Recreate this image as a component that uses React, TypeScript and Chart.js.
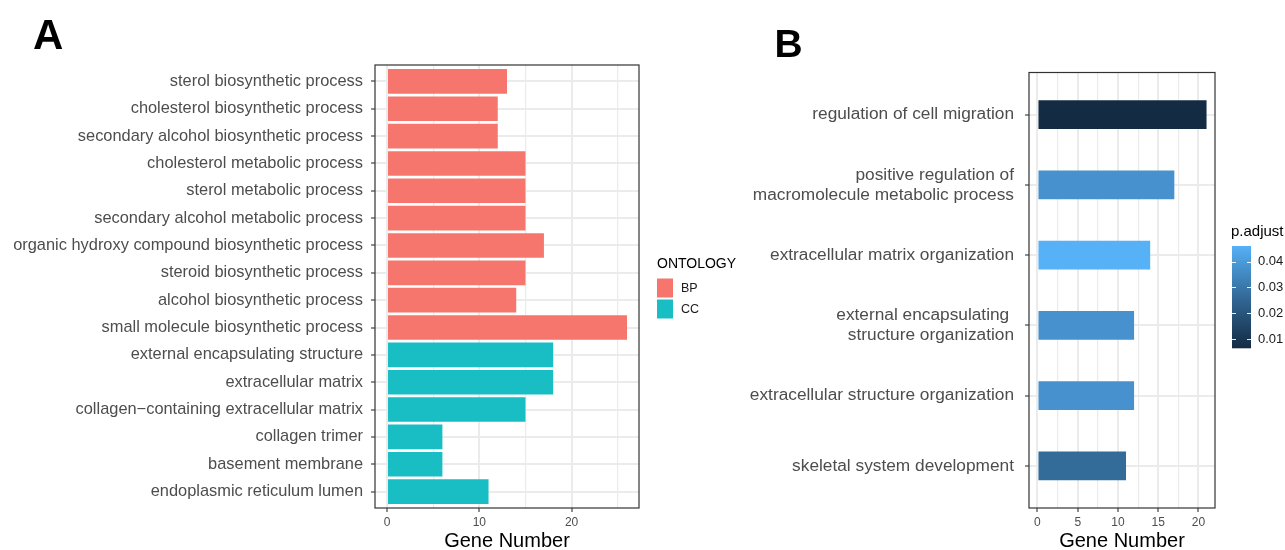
import React, { useEffect, useRef } from "react";
import { Chart, registerables } from "chart.js";

Chart.register(...registerables);

// ---------- Data: panel A ----------
const termsA = [
  "sterol biosynthetic process",
  "cholesterol biosynthetic process",
  "secondary alcohol biosynthetic process",
  "cholesterol metabolic process",
  "sterol metabolic process",
  "secondary alcohol metabolic process",
  "organic hydroxy compound biosynthetic process",
  "steroid biosynthetic process",
  "alcohol biosynthetic process",
  "small molecule biosynthetic process",
  "external encapsulating structure",
  "extracellular matrix",
  "collagen\u2212containing extracellular matrix",
  "collagen trimer",
  "basement membrane",
  "endoplasmic reticulum lumen",
];
const countsA = [13, 12, 12, 15, 15, 15, 17, 15, 14, 26, 18, 18, 15, 6, 6, 11];
const ontologyA = ["BP", "BP", "BP", "BP", "BP", "BP", "BP", "BP", "BP", "BP", "CC", "CC", "CC", "CC", "CC", "CC"];
const ontologyLevels = ["BP", "CC"];
const ontologyColors = ["#F6766E", "#19BEC4"];
const xTicksA = [0, 5, 10, 15, 20, 25];

// ---------- Data: panel B ----------
const termsB: (string | string[])[] = [
  "regulation of cell migration",
  ["positive regulation of", "macromolecule metabolic process"],
  "extracellular matrix organization",
  ["external encapsulating ", "structure organization"],
  "extracellular structure organization",
  "skeletal system development",
];
const countsB = [21, 17, 14, 12, 12, 11];
const padjB = [0.0064, 0.0376, 0.046, 0.0376, 0.0376, 0.0265];
const xTicksB = [0, 2.5, 5, 7.5, 10, 12.5, 15, 17.5, 20];
const padjTicks = [0.01, 0.02, 0.03, 0.04];

const FONT = "'Liberation Sans', Arial, Helvetica, sans-serif";
const GRID = "#EBEBEB";
const AXIS_TEXT = "#4D4D4D";
const TICK = "#333333";

// ---------- colour ramp (CIELAB, like ggplot's continuous fill) ----------
const WHITE = [0.95047, 1, 1.08883];
function hexToRgb(h: string) {
  const n = parseInt(h.slice(1), 16);
  return [(n >> 16) & 255, (n >> 8) & 255, n & 255];
}
function toLin(c: number) {
  c /= 255;
  return c <= 0.04045 ? c / 12.92 : Math.pow((c + 0.055) / 1.055, 2.4);
}
function fromLin(c: number) {
  const v = c <= 0.0031308 ? 12.92 * c : 1.055 * Math.pow(c, 1 / 2.4) - 0.055;
  return Math.round(Math.min(1, Math.max(0, v)) * 255);
}
function rgbToLab(rgb: number[]) {
  const R = toLin(rgb[0]), G = toLin(rgb[1]), B = toLin(rgb[2]);
  const X = (0.4124564 * R + 0.3575761 * G + 0.1804375 * B) / WHITE[0];
  const Y = (0.2126729 * R + 0.7151522 * G + 0.072175 * B) / WHITE[1];
  const Z = (0.0193339 * R + 0.119192 * G + 0.9503041 * B) / WHITE[2];
  const f = (t: number) => (t > 216 / 24389 ? Math.cbrt(t) : ((24389 / 27) * t + 16) / 116);
  const fx = f(X), fy = f(Y), fz = f(Z);
  return [116 * fy - 16, 500 * (fx - fy), 200 * (fy - fz)];
}
function labToRgb(lab: number[]) {
  const fy = (lab[0] + 16) / 116, fx = fy + lab[1] / 500, fz = fy - lab[2] / 200;
  const finv = (t: number) => {
    const t3 = t * t * t;
    return t3 > 216 / 24389 ? t3 : (116 * t - 16) / (24389 / 27);
  };
  const X = finv(fx) * WHITE[0], Y = finv(fy) * WHITE[1], Z = finv(fz) * WHITE[2];
  const R = 3.2404542 * X - 1.5371385 * Y - 0.4985314 * Z;
  const G = -0.969266 * X + 1.8760108 * Y + 0.041556 * Z;
  const B = 0.0556434 * X - 0.2040259 * Y + 1.0572252 * Z;
  return [fromLin(R), fromLin(G), fromLin(B)];
}
const LOW = rgbToLab(hexToRgb("#132B43"));
const HIGH = rgbToLab(hexToRgb("#56B1F7"));
const pMin = Math.min(...padjB);
const pMax = Math.max(...padjB);
function padjColor(p: number) {
  const t = Math.min(1, Math.max(0, (p - pMin) / (pMax - pMin)));
  const lab = [0, 1, 2].map((k) => LOW[k] + (HIGH[k] - LOW[k]) * t);
  const c = labToRgb(lab);
  return `rgb(${c[0]},${c[1]},${c[2]})`;
}

// ---------- plugins ----------
const framePlugin = {
  id: "frame",
  afterDatasetsDraw(chart: any) {
    const { ctx, chartArea: a } = chart;
    ctx.save();
    ctx.strokeStyle = "#333333";
    ctx.lineWidth = 1.2;
    ctx.strokeRect(a.left, a.top, a.right - a.left, a.bottom - a.top);
    ctx.restore();
  },
};

const legendAPlugin = {
  id: "legendA",
  afterDraw(chart: any) {
    const ctx = chart.ctx;
    ctx.save();
    ctx.fillStyle = "#000";
    ctx.font = `bold 42px ${FONT}`;
    ctx.textBaseline = "alphabetic";
    ctx.textAlign = "left";
    ctx.fillText("A", 33, 49);
    ctx.font = `14px ${FONT}`;
    ctx.fillText("ONTOLOGY", 657, 268);
    ontologyLevels.forEach((lv, i) => {
      ctx.fillStyle = ontologyColors[i];
      ctx.fillRect(657, 278.5 + i * 21, 16, 19);
      ctx.fillStyle = "#1A1A1A";
      ctx.font = `12.5px ${FONT}`;
      ctx.textBaseline = "middle";
      ctx.fillText(lv, 681, 288.5 + i * 21);
    });
    ctx.restore();
  },
};

const legendBPlugin = {
  id: "legendB",
  afterDraw(chart: any) {
    const ctx = chart.ctx;
    ctx.save();
    ctx.fillStyle = "#000";
    ctx.font = `bold 39px ${FONT}`;
    ctx.textBaseline = "alphabetic";
    ctx.textAlign = "left";
    ctx.fillText("B", 774.5, 57);

    ctx.font = `15px ${FONT}`;
    ctx.fillText("p.adjust", 1231, 236);

    const x0 = 1232, w = 19, yTop = 246, yBot = 348.3;
    const yOf = (p: number) => yBot - ((p - pMin) / (pMax - pMin)) * (yBot - yTop);
    const grad = ctx.createLinearGradient(0, yBot, 0, yTop);
    for (let i = 0; i <= 20; i++) {
      const p = pMin + ((pMax - pMin) * i) / 20;
      grad.addColorStop(i / 20, padjColor(p));
    }
    ctx.fillStyle = grad;
    ctx.fillRect(x0, yTop, w, yBot - yTop);

    ctx.strokeStyle = "rgba(255,255,255,0.9)";
    ctx.lineWidth = 1;
    ctx.font = `13px ${FONT}`;
    ctx.textBaseline = "middle";
    padjTicks.forEach((p) => {
      const y = Math.round(yOf(p)) + 0.5;
      ctx.beginPath();
      ctx.moveTo(x0, y);
      ctx.lineTo(x0 + 4, y);
      ctx.moveTo(x0 + w - 4, y);
      ctx.lineTo(x0 + w, y);
      ctx.stroke();
      ctx.fillStyle = "#1A1A1A";
      ctx.fillText(p.toFixed(2), 1258, yOf(p));
    });
    ctx.restore();
  },
};

function App() {
  const refA = useRef<HTMLCanvasElement>(null);
  const refB = useRef<HTMLCanvasElement>(null);

  useEffect(() => {
    Chart.defaults.font.family = FONT;

    const chartA = new Chart(refA.current as HTMLCanvasElement, {
      type: "bar",
      data: {
        datasets: [
          {
            data: countsA.map((v, i) => ({ x: v, y: i })),
            backgroundColor: ontologyA.map((o) => ontologyColors[ontologyLevels.indexOf(o)]),
            borderWidth: 0,
            barPercentage: 0.9,
            categoryPercentage: 1,
          } as any,
        ],
      },
      options: {
        indexAxis: "y",
        animation: false,
        responsive: false,
        devicePixelRatio: 1,
        layout: { padding: { left: 0, top: 65, right: 1285 - 639, bottom: 0 } },
        plugins: { legend: { display: false }, tooltip: { enabled: false } },
        scales: {
          x: {
            type: "linear",
            min: -1.3,
            max: 27.3,
            offset: false,
            afterBuildTicks: (s: any) => {
              s.ticks = xTicksA.map((v) => ({ value: v }));
            },
            afterFit: (s: any) => {
              s.height = 42;
            },
            grid: {
              offset: false,
              color: GRID,
              lineWidth: (c: any) => (c.tick && c.tick.value % 10 === 0 ? 2 : 1.2),
              drawTicks: true,
              tickLength: 4,
              tickWidth: 1.1,
              tickColor: (c: any) => (c.tick && c.tick.value % 10 === 0 ? TICK : "rgba(0,0,0,0)"),
            },
            border: { display: false },
            ticks: {
              autoSkip: false,
              maxRotation: 0,
              padding: 3,
              color: AXIS_TEXT,
              font: { size: 12, family: FONT },
              callback: (v: any) => (Number(v) % 10 === 0 ? String(v) : ""),
            },
            title: {
              display: true,
              text: "Gene Number",
              color: "#000",
              font: { size: 20, family: FONT, lineHeight: 1 },
              padding: { top: 0, bottom: -1 },
            },
          },
          y: {
            type: "linear",
            min: -0.6,
            max: termsA.length - 0.4,
            reverse: true,
            offset: false,
            afterBuildTicks: (s: any) => {
              s.ticks = termsA.map((_, i) => ({ value: i }));
            },
            afterFit: (s: any) => {
              s.width = 375;
            },
            grid: {
              offset: false,
              color: GRID,
              lineWidth: 2,
              drawTicks: true,
              tickLength: 4,
              tickWidth: 1.1,
              tickColor: TICK,
            },
            border: { display: false },
            ticks: {
              autoSkip: false,
              padding: 8,
              color: AXIS_TEXT,
              font: { size: 16.4, family: FONT },
              callback: (v: any) => termsA[Number(v)] ?? "",
            },
          },
        },
      } as any,
      plugins: [framePlugin, legendAPlugin],
    });

    const chartB = new Chart(refB.current as HTMLCanvasElement, {
      type: "bar",
      data: {
        datasets: [
          {
            data: countsB.map((v, i) => ({ x: v, y: i })),
            backgroundColor: padjB.map((p) => padjColor(p)),
            borderWidth: 0,
            barPercentage: 0.41,
            categoryPercentage: 1,
          } as any,
        ],
      },
      options: {
        indexAxis: "y",
        animation: false,
        responsive: false,
        devicePixelRatio: 1,
        layout: { padding: { left: 0, top: 72.5, right: 1285 - 1215, bottom: 0 } },
        plugins: { legend: { display: false }, tooltip: { enabled: false } },
        scales: {
          x: {
            type: "linear",
            min: -1.05,
            max: 22.05,
            offset: false,
            afterBuildTicks: (s: any) => {
              s.ticks = xTicksB.map((v) => ({ value: v }));
            },
            afterFit: (s: any) => {
              s.height = 42;
            },
            grid: {
              offset: false,
              color: GRID,
              lineWidth: (c: any) => (c.tick && c.tick.value % 5 === 0 ? 2 : 1.2),
              drawTicks: true,
              tickLength: 4,
              tickWidth: 1.1,
              tickColor: (c: any) => (c.tick && c.tick.value % 5 === 0 ? TICK : "rgba(0,0,0,0)"),
            },
            border: { display: false },
            ticks: {
              autoSkip: false,
              maxRotation: 0,
              padding: 3,
              color: AXIS_TEXT,
              font: { size: 12, family: FONT },
              callback: (v: any) => (Number(v) % 5 === 0 ? String(v) : ""),
            },
            title: {
              display: true,
              text: "Gene Number",
              color: "#000",
              font: { size: 20, family: FONT, lineHeight: 1 },
              padding: { top: 0, bottom: -1 },
            },
          },
          y: {
            type: "linear",
            min: -0.6,
            max: termsB.length - 0.4,
            reverse: true,
            offset: false,
            afterBuildTicks: (s: any) => {
              s.ticks = termsB.map((_, i) => ({ value: i }));
            },
            afterFit: (s: any) => {
              s.width = 1029;
            },
            grid: {
              offset: false,
              color: GRID,
              lineWidth: 2,
              drawTicks: true,
              tickLength: 4,
              tickWidth: 1.1,
              tickColor: TICK,
            },
            border: { display: false },
            ticks: {
              autoSkip: false,
              padding: 11,
              color: AXIS_TEXT,
              font: { size: 17.3, family: FONT, lineHeight: 1.16 },
              callback: (v: any) => termsB[Number(v)] ?? "",
            },
          },
        },
      } as any,
      plugins: [framePlugin, legendBPlugin],
    });

    return () => {
      chartA.destroy();
      chartB.destroy();
    };
  }, []);

  const canvasStyle: React.CSSProperties = { position: "absolute", left: 0, top: 0, width: 1285, height: 550 };
  return (
    <div style={{ position: "absolute", left: 0, top: 0, width: 1285, height: 550, background: "#fff", overflow: "hidden" }}>
      <canvas ref={refA} width={1285} height={550} style={canvasStyle} />
      <canvas ref={refB} width={1285} height={550} style={canvasStyle} />
    </div>
  );
}

export default App;
